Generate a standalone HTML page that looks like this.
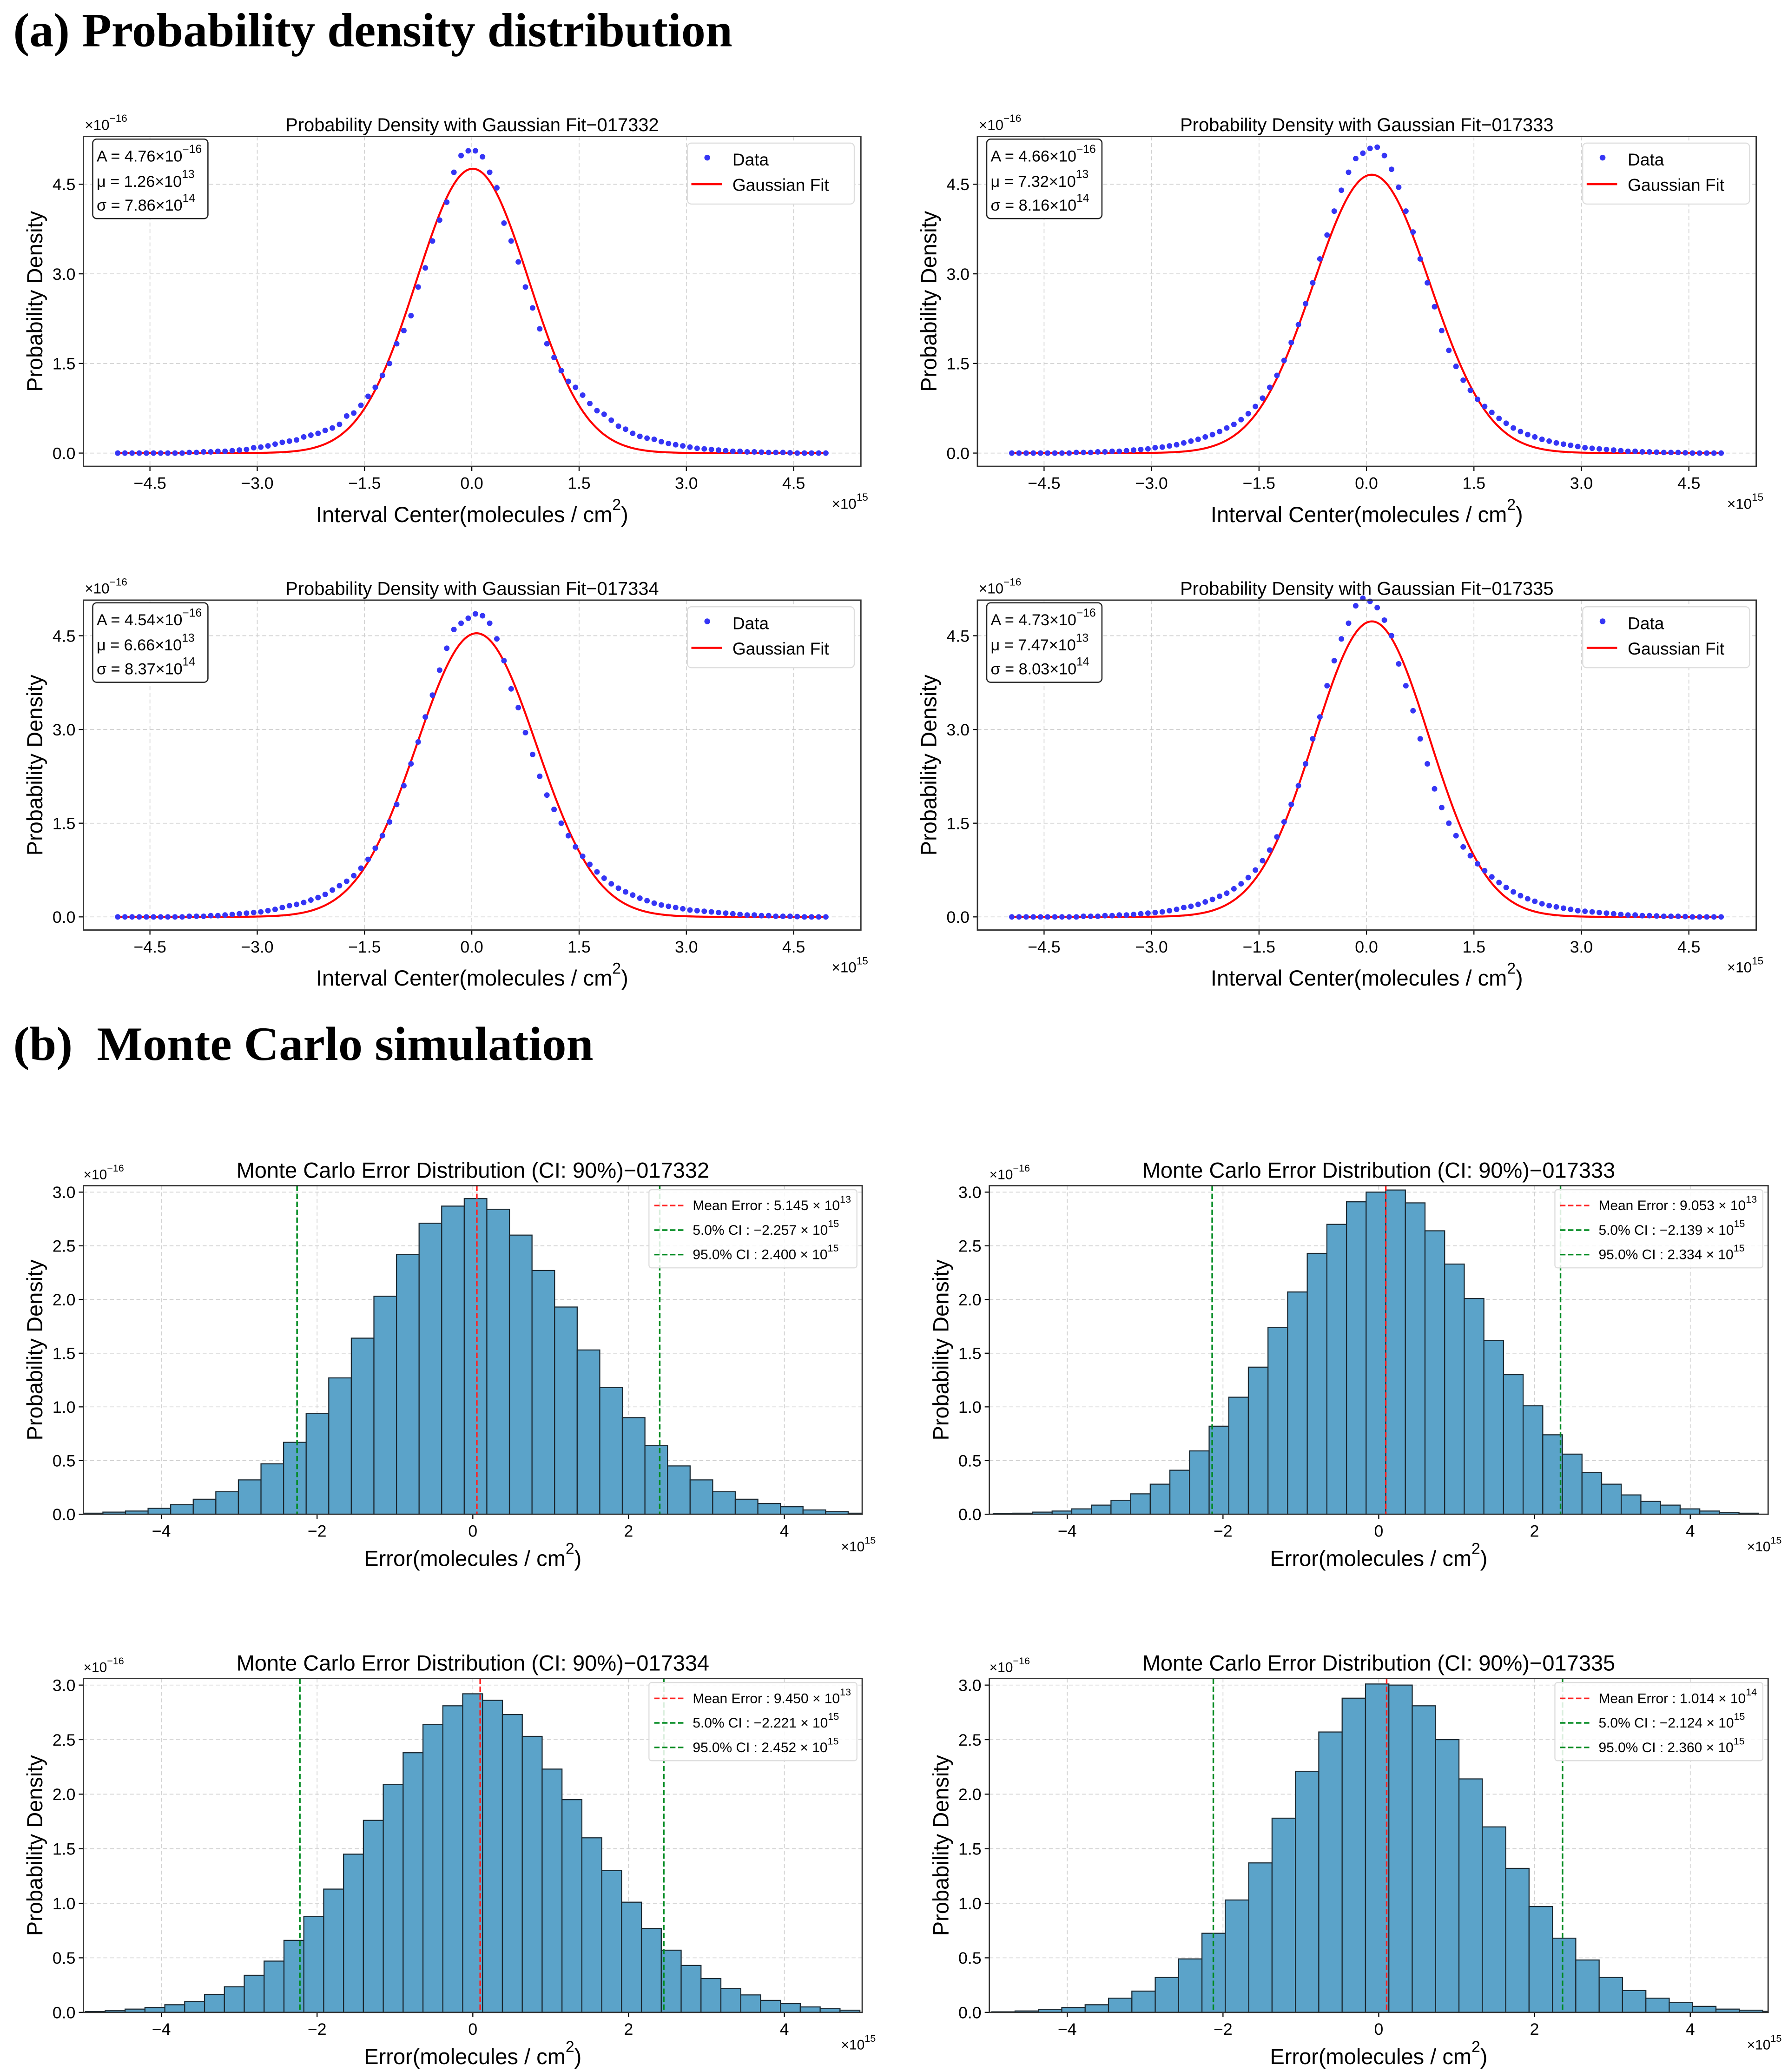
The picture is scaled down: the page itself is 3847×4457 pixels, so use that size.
<!DOCTYPE html>
<html><head><meta charset="utf-8"><style>
html,body{margin:0;padding:0;background:#fff}
svg{display:block}
text{font-family:"Liberation Sans",Arial,sans-serif;fill:#000}
</style></head><body>
<svg id="fig" xmlns="http://www.w3.org/2000/svg" width="3847" height="4457" viewBox="0 0 1350 1564" preserveAspectRatio="none">
<rect width="1350" height="1564" fill="#fff"/>
<text x="10" y="35" style="font-family:'Liberation Serif',serif;font-weight:bold;font-size:36px" textLength="543" lengthAdjust="spacingAndGlyphs">(a) Probability density distribution</text>
<text x="10" y="800" style="font-family:'Liberation Serif',serif;font-weight:bold;font-size:36px" textLength="438" lengthAdjust="spacingAndGlyphs">(b)&#160; Monte Carlo simulation</text>
</svg>
<script>
// ---------- data ----------
const dotX = [-4.95,-4.85,-4.75,-4.65,-4.55,-4.45,-4.35,-4.25,-4.15,-4.05,-3.95,-3.85,-3.75,-3.65,-3.55,-3.45,-3.35,-3.25,-3.15,-3.05,-2.95,-2.85,-2.75,-2.65,-2.55,-2.45,-2.35,-2.25,-2.15,-2.05,-1.95,-1.85,-1.75,-1.65,-1.55,-1.45,-1.35,-1.25,-1.15,-1.05,-0.95,-0.85,-0.75,-0.65,-0.55,-0.45,-0.35,-0.25,-0.15,-0.05,0.05,0.15,0.25,0.35,0.45,0.55,0.65,0.75,0.85,0.95,1.05,1.15,1.25,1.35,1.45,1.55,1.65,1.75,1.85,1.95,2.05,2.15,2.25,2.35,2.45,2.55,2.65,2.75,2.85,2.95,3.05,3.15,3.25,3.35,3.45,3.55,3.65,3.75,3.85,3.95,4.05,4.15,4.25,4.35,4.45,4.55,4.65,4.75,4.85,4.95];
const dotsA1 = [0,0,0,0,0,0,0,0,0,0,0.01,0.01,0.02,0.02,0.03,0.03,0.04,0.05,0.06,0.09,0.1,0.12,0.15,0.18,0.2,0.22,0.27,0.3,0.33,0.38,0.42,0.48,0.62,0.67,0.8,0.95,1.1,1.3,1.5,1.83,2.05,2.3,2.78,3.1,3.55,3.9,4.2,4.7,4.98,5.06,5.06,4.96,4.7,4.44,3.85,3.55,3.2,2.78,2.43,2.08,1.83,1.6,1.38,1.2,1.1,0.97,0.83,0.71,0.65,0.55,0.45,0.4,0.33,0.28,0.25,0.23,0.19,0.16,0.14,0.12,0.1,0.08,0.07,0.06,0.05,0.04,0.03,0.03,0.02,0.02,0.015,0.01,0.01,0.01,0.005,0,0,0,0,0];
const dotsA2 = [0,0,0,0,0,0,0,0,0,0.01,0.01,0.01,0.02,0.02,0.03,0.03,0.04,0.05,0.06,0.07,0.09,0.1,0.12,0.14,0.17,0.2,0.23,0.27,0.31,0.36,0.42,0.48,0.56,0.66,0.78,0.92,1.1,1.3,1.55,1.85,2.15,2.5,2.85,3.25,3.65,4.05,4.4,4.7,4.93,5.02,5.1,5.12,4.98,4.75,4.45,4.05,3.7,3.25,2.85,2.45,2.05,1.72,1.45,1.22,1.05,0.9,0.78,0.68,0.58,0.5,0.42,0.36,0.31,0.27,0.23,0.2,0.17,0.15,0.13,0.11,0.09,0.08,0.07,0.06,0.05,0.04,0.03,0.03,0.02,0.02,0.015,0.01,0.01,0.01,0.005,0,0,0,0,0];
const dotsA3 = [0,0,0,0,0,0,0,0,0,0,0.01,0.01,0.01,0.02,0.02,0.03,0.04,0.05,0.06,0.07,0.08,0.1,0.12,0.15,0.18,0.2,0.23,0.27,0.31,0.36,0.43,0.5,0.57,0.66,0.78,0.92,1.1,1.3,1.52,1.8,2.1,2.45,2.8,3.2,3.55,3.95,4.3,4.6,4.7,4.78,4.85,4.82,4.7,4.45,4.1,3.65,3.35,2.95,2.6,2.25,1.95,1.72,1.5,1.3,1.12,0.97,0.84,0.72,0.62,0.53,0.46,0.4,0.35,0.3,0.26,0.22,0.19,0.17,0.15,0.13,0.11,0.1,0.09,0.08,0.07,0.06,0.05,0.04,0.03,0.03,0.02,0.02,0.01,0.01,0.01,0.005,0,0,0,0];
const dotsA4 = [0,0,0,0,0,0,0,0,0,0,0.01,0.01,0.01,0.02,0.02,0.03,0.03,0.04,0.05,0.06,0.07,0.08,0.1,0.12,0.15,0.17,0.2,0.24,0.28,0.33,0.38,0.45,0.53,0.63,0.75,0.9,1.07,1.28,1.52,1.8,2.1,2.45,2.85,3.2,3.7,4.1,4.45,4.7,4.98,5.1,5.05,4.95,4.75,4.5,4.05,3.7,3.3,2.85,2.45,2.05,1.75,1.5,1.3,1.12,0.98,0.85,0.74,0.64,0.55,0.47,0.4,0.34,0.29,0.25,0.21,0.18,0.16,0.14,0.12,0.1,0.09,0.08,0.07,0.06,0.05,0.04,0.03,0.03,0.02,0.02,0.015,0.01,0.01,0.01,0.005,0,0,0,0,0];
const fitA = [4.76, 4.66, 4.54, 4.73];
const fitMu = [0.0126, 0.0732, 0.0666, 0.0747];
const fitSigma = [0.786, 0.816, 0.837, 0.803];
const fitLabelA = ["4.76", "4.66", "4.54", "4.73"];
const fitLabelMu = ["1.26", "7.32", "6.66", "7.47"];
const fitLabelMuExp = ["13", "13", "13", "13"];
const fitLabelSig = ["7.86", "8.16", "8.37", "8.03"];
const idsA = ["017332", "017333", "017334", "017335"];
const aYTicks = [0.0, 1.5, 3.0, 4.5];
const aYTickLabels = ["0.0", "1.5", "3.0", "4.5"];
const aXTicks = [-4.5, -3.0, -1.5, 0.0, 1.5, 3.0, 4.5];
const aXTickLabels = ["\u22124.5", "\u22123.0", "\u22121.5", "0.0", "1.5", "3.0", "4.5"];

const histB1 = [0.01,0.02,0.03,0.055,0.09,0.14,0.21,0.32,0.47,0.67,0.94,1.27,1.64,2.03,2.42,2.71,2.87,2.94,2.84,2.60,2.27,1.93,1.53,1.18,0.90,0.64,0.45,0.32,0.21,0.14,0.10,0.07,0.04,0.025,0.01];
const histB2 = [0.005,0.01,0.02,0.03,0.05,0.085,0.13,0.19,0.28,0.41,0.59,0.82,1.09,1.37,1.74,2.07,2.43,2.70,2.91,3.00,3.02,2.90,2.64,2.33,2.01,1.62,1.30,1.01,0.74,0.56,0.39,0.28,0.18,0.12,0.085,0.05,0.03,0.015,0.01];
const histB3 = [0.007,0.015,0.03,0.045,0.07,0.10,0.165,0.235,0.34,0.47,0.66,0.88,1.13,1.45,1.76,2.09,2.38,2.64,2.81,2.92,2.86,2.73,2.53,2.23,1.95,1.60,1.30,1.01,0.77,0.57,0.43,0.31,0.22,0.16,0.11,0.08,0.05,0.035,0.02];
const histB4 = [0.005,0.013,0.027,0.045,0.07,0.13,0.195,0.32,0.49,0.725,1.03,1.37,1.78,2.21,2.57,2.88,3.01,3.00,2.81,2.50,2.14,1.70,1.32,0.97,0.68,0.48,0.32,0.20,0.13,0.09,0.055,0.03,0.02,0.01];
const binStart = [-5.04, -4.95, -4.975, -4.97];
const binWidth = [0.29, 0.252, 0.255, 0.30];
const meanErr = [0.05145, 0.09053, 0.09450, 0.1014];
const ciLow = [-2.257, -2.139, -2.221, -2.124];
const ciHigh = [2.400, 2.334, 2.452, 2.360];
const meanLabel = ["5.145", "9.053", "9.450", "1.014"];
const meanExp = ["13", "13", "13", "14"];
const ciLowLabel = ["\u22122.257", "\u22122.139", "\u22122.221", "\u22122.124"];
const ciHighLabel = ["2.400", "2.334", "2.452", "2.360"];
const bYTicks = [0.0, 0.5, 1.0, 1.5, 2.0, 2.5, 3.0];
const bYTickLabels = ["0.0", "0.5", "1.0", "1.5", "2.0", "2.5", "3.0"];
const bXTicks = [-4, -2, 0, 2, 4];
const bXTickLabels = ["\u22124", "\u22122", "0", "2", "4"];

// ---------- drawing ----------
const NS = "http://www.w3.org/2000/svg";
const svg = document.getElementById("fig");
function mk(tag, attrs, parent) {
  const e = document.createElementNS(NS, tag);
  for (const k in attrs) e.setAttribute(k, attrs[k]);
  (parent || svg).appendChild(e);
  return e;
}
function txt(parent, x, y, s, size, anchor, extra) {
  const t = mk("text", Object.assign({x: x, y: y, "font-size": size, "text-anchor": anchor || "start"}, extra || {}), parent);
  t.textContent = s;
  return t;
}
function sup(parent, x, y, base, exp, size, anchor) {
  const t = mk("text", {x: x, y: y, "font-size": size, "text-anchor": anchor || "start"}, parent);
  t.appendChild(document.createTextNode(base));
  const ts = mk("tspan", {dy: -size * 0.55, "font-size": size * 0.72}, t);
  ts.textContent = exp;
  return t;
}
function axes(g, P, xTicks, xLabels, yTicks, yLabels) {
  const sx = v => P.L + (v - P.x0) / (P.x1 - P.x0) * (P.R - P.L);
  const sy = v => P.B - (v - P.y0) / (P.y1 - P.y0) * (P.B - P.T);
  const grid = mk("g", {stroke: "#d0d0d0", "stroke-width": 0.6, "stroke-dasharray": "3,2"}, g);
  
  
  xTicks.forEach((v, i) => {
    mk("line", {x1: sx(v), x2: sx(v), y1: P.T, y2: P.B}, grid);
    const tl = txt(g, sx(v), P.B + 17, xLabels[i], 12.5, "middle");
    
    
    mk("line", {x1: sx(v), x2: sx(v), y1: P.B, y2: P.B + 3.5, stroke: "#000", "stroke-width": 0.8}, g);
  });
  yTicks.forEach((v, i) => {
    mk("line", {x1: P.L, x2: P.R, y1: sy(v), y2: sy(v)}, grid);
    const tl = txt(g, P.L - 6, sy(v) + 4.5, yLabels[i], 12.5, "end");
    
    
    mk("line", {x1: P.L - 3.5, x2: P.L, y1: sy(v), y2: sy(v), stroke: "#000", "stroke-width": 0.8}, g);
  });
  return {sx, sy};
}
function frame(g, P) {
  const f = mk("rect", {x: P.L, y: P.T, width: P.R - P.L, height: P.B - P.T, fill: "none", stroke: "#333", "stroke-width": 1}, g);
  
  
}

// Section (a)
const aPanels = [
  {L: 63, R: 650, T: 103, B: 352, y0: -0.222, y1: 5.30, dots: dotsA1},
  {L: 738, R: 1326, T: 103, B: 352, y0: -0.222, y1: 5.30, dots: dotsA2},
  {L: 63, R: 650, T: 453, B: 702, y0: -0.21, y1: 5.07, dots: dotsA3},
  {L: 738, R: 1326, T: 453, B: 702, y0: -0.21, y1: 5.07, dots: dotsA4}
];
aPanels.forEach((P, i) => {
  P.x0 = -5.43; P.x1 = 5.44;
  const g = mk("g", {});
  
  
  const {sx, sy} = axes(g, P, aXTicks, aXTickLabels, aYTicks, aYTickLabels);
  let d = "";
  for (let k = 0; k <= 400; k++) {
    const x = -4.95 + 9.9 * k / 400;
    const y = fitA[i] * Math.exp(-Math.pow(x - fitMu[i], 2) / (2 * fitSigma[i] * fitSigma[i]));
    d += (k ? "L" : "M") + sx(x).toFixed(2) + "," + sy(y).toFixed(2);
  }
  const c = mk("path", {d: d, fill: "none", stroke: "#ff0000", "stroke-width": 1.5}, g);
  
  
  const n = Math.min(dotX.length, P.dots.length);
  for (let k = 0; k < n; k++) {
    const p = mk("circle", {cx: sx(dotX[k]), cy: sy(P.dots[k]), r: 2.1, fill: "#3535f5"}, g);
    
    
  }
  frame(g, P);
  const t = txt(g, (P.L + P.R) / 2, P.T - 4, "Probability Density with Gaussian Fit\u2212" + idsA[i], 14, "middle");
  
  
  const m = sup(g, P.L + 1, P.T - 5, "\u00d710", "\u221216", 11);
  
  
  const m2 = sup(g, P.R - 22, P.B + 32, "\u00d710", "15", 11);
  
  
  const xl = sup(g, (P.L + P.R) / 2, P.B + 42, "Interval Center(molecules / cm", "2", 16.5, "middle");
  const close = mk("tspan", {dy: 16.5 * 0.55}, xl); close.textContent = ")";
  
  
  const yl = txt(g, 0, 0, "Probability Density", 16.5, "middle", {transform: "translate(" + (P.L - 31) + "," + ((P.T + P.B) / 2) + ") rotate(-90)"});
  
  
  const ib = mk("g", {}, g);
  
  
  mk("rect", {x: P.L + 7, y: P.T + 2, width: 87, height: 60, rx: 3, fill: "#fff", stroke: "#222", "stroke-width": 0.9}, ib);
  sup(ib, P.L + 10, P.T + 19, "A = " + fitLabelA[i] + "\u00d710", "\u221216", 12);
  sup(ib, P.L + 10, P.T + 38, "\u03bc = " + fitLabelMu[i] + "\u00d710", fitLabelMuExp[i], 12);
  sup(ib, P.L + 10, P.T + 56, "\u03c3 = " + fitLabelSig[i] + "\u00d710", "14", 12);
  const lg = mk("g", {}, g);
  
  
  mk("rect", {x: P.R - 131, y: P.T + 5, width: 126, height: 46, rx: 3, fill: "#fff", stroke: "#ddd", "stroke-width": 0.8}, lg);
  mk("circle", {cx: P.R - 116, cy: P.T + 16, r: 2.2, fill: "#3535f5"}, lg);
  txt(lg, P.R - 97, P.T + 22, "Data", 13);
  mk("line", {x1: P.R - 128, x2: P.R - 105, y1: P.T + 36, y2: P.T + 36, stroke: "#ff0000", "stroke-width": 1.6}, lg);
  txt(lg, P.R - 97, P.T + 41, "Gaussian Fit", 13);
});

// Section (b)
const bPanels = [
  {L: 63, R: 651, T: 895, B: 1143, hist: histB1},
  {L: 747, R: 1335, T: 895, B: 1143, hist: histB2},
  {L: 63, R: 651, T: 1267, B: 1519, hist: histB3},
  {L: 747, R: 1335, T: 1267, B: 1519, hist: histB4}
];
bPanels.forEach((P, i) => {
  P.x0 = -5.0; P.x1 = 5.0; P.y0 = 0; P.y1 = 3.06;
  const g = mk("g", {});
  
  
  const {sx, sy} = axes(g, P, bXTicks, bXTickLabels, bYTicks, bYTickLabels);
  const cl = "clipB" + i;
  const cp = mk("clipPath", {id: cl}, g);
  mk("rect", {x: P.L, y: P.T, width: P.R - P.L, height: P.B - P.T}, cp);
  const bars = mk("g", {"clip-path": "url(#" + cl + ")"}, g);
  P.hist.forEach((v, k) => {
    const a = binStart[i] + k * binWidth[i];
    const b = a + binWidth[i];
    const r = mk("rect", {x: sx(a), y: sy(v), width: sx(b) - sx(a), height: sy(0) - sy(v), fill: "#5ba3c9", stroke: "#1c2a33", "stroke-width": 0.8}, bars);
    
    
  });
  const lines = [[meanErr[i], "#ff2020", "mean-error-line"], [ciLow[i], "#008a20", "ci-5-line"], [ciHigh[i], "#008a20", "ci-95-line"]];
  lines.forEach(l => {
    const ln = mk("line", {x1: sx(l[0]), x2: sx(l[0]), y1: P.T, y2: P.B, stroke: l[1], "stroke-width": 1.2, "stroke-dasharray": "4,2"}, g);
    
    
  });
  frame(g, P);
  const t = txt(g, (P.L + P.R) / 2, P.T - 6, "Monte Carlo Error Distribution (CI: 90%)\u2212" + idsA[i], 16.5, "middle");
  
  
  const m = sup(g, P.L, P.T - 5, "\u00d710", "\u221216", 10.5);
  
  
  const m2 = sup(g, P.R - 16, P.B + 28, "\u00d710", "15", 10.5);
  
  
  const xl = sup(g, (P.L + P.R) / 2, P.B + 39, "Error(molecules / cm", "2", 16.5, "middle");
  const close = mk("tspan", {dy: 16.5 * 0.55}, xl); close.textContent = ")";
  
  
  const yl = txt(g, 0, 0, "Probability Density", 16.5, "middle", {transform: "translate(" + (P.L - 31) + "," + ((P.T + P.B) / 2) + ") rotate(-90)"});
  
  
  const lg = mk("g", {}, g);
  
  
  const lx = P.R - 161;
  mk("rect", {x: lx, y: P.T + 3, width: 157, height: 59, rx: 2, fill: "#fff", "fill-opacity": 0.85, stroke: "#ddd", "stroke-width": 0.8}, lg);
  const entries = [["#ff2020", "Mean Error : " + meanLabel[i] + " \u00d7 10", meanExp[i]], ["#008a20", "5.0% CI : " + ciLowLabel[i] + " \u00d7 10", "15"], ["#008a20", "95.0% CI : " + ciHighLabel[i] + " \u00d7 10", "15"]];
  entries.forEach((e, k) => {
    const yy = P.T + 15 + k * 18.5;
    mk("line", {x1: lx + 4, x2: lx + 26, y1: yy, y2: yy, stroke: e[0], "stroke-width": 1.2, "stroke-dasharray": "4,2"}, lg);
    sup(lg, lx + 33, yy + 3.5, e[1], e[2], 10.5);
  });
});
</script>
</body></html>
